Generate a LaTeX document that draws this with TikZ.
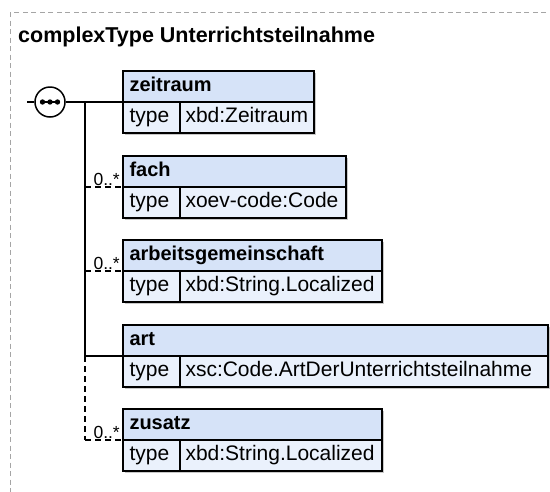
\documentclass[tikz,border=0pt]{standalone}
\usepackage{fontspec}
\setmainfont{Liberation Sans}
\usetikzlibrary{backgrounds}
\definecolor{hdrblue}{RGB}{214,227,248}
\definecolor{rowblue}{RGB}{234,241,252}
\definecolor{framegray}{RGB}{165,165,165}
\definecolor{shadowgray}{RGB}{200,200,200}
\begin{document}
\begin{tikzpicture}[x=1pt,y=-1pt,
  cell/.style={draw=black, line width=1.6pt, anchor=north west, outer sep=0pt,
    inner ysep=0pt, inner xsep=6.5pt, minimum height=31pt,
    text height=14.5pt, text depth=4pt, align=left,
    font=\fontsize{21}{25}\selectfont},
  hdrcell/.style={cell, fill=hdrblue, font=\fontsize{20}{24}\selectfont\bfseries},
  typecell/.style={cell, fill=rowblue, text width=44pt},
  valcell/.style={cell, fill=rowblue, inner xsep=5.5pt},
  conn/.style={line width=1.4pt, black},
  optconn/.style={conn, dash pattern=on 6pt off 4pt},
  mult/.style={anchor=base east, inner sep=0pt, font=\fontsize{17.5}{20}\selectfont},
  seqsym/.style={circle, draw=black, fill=white, line width=1.5pt, minimum size=30pt, inner sep=0pt},
  boxshadow/.style={fill=shadowgray}
]
\useasboundingbox (0,0) rectangle (550,491);
% frame
\draw[framegray, line width=1pt, dash pattern=on 5pt off 3.5pt] (10,12) rectangle (600,540);
\node[anchor=base west, inner sep=0pt, font=\fontsize{21.5}{25}\selectfont\bfseries] (title) at (18,42) {complexType Unterrichtsteilnahme};

% zeitraum
\node[hdrcell, text width=178pt] (zh) at (123,71) {zeitraum};
\node[typecell] (zt) at (zh.south west) {type};
\node[valcell, text width=123pt] (zv) at (zt.north east) {xbd:Zeitraum};
% fach
\node[hdrcell, text width=210pt] (fh) at (123,156) {fach};
\node[typecell] (ft) at (fh.south west) {type};
\node[valcell, text width=155pt] (fv) at (ft.north east) {xoev-code:Code};
% arbeitsgemeinschaft
\node[hdrcell, text width=246pt] (gh) at (123,240) {arbeitsgemeinschaft};
\node[typecell] (gt) at (gh.south west) {type};
\node[valcell, text width=191pt] (gv) at (gt.north east) {xbd:String.Localized};
% art
\node[hdrcell, text width=412pt] (ah) at (123,325) {art};
\node[typecell] (at) at (ah.south west) {type};
\node[valcell, text width=357pt] (av) at (at.north east) {xsc:Code.ArtDerUnterrichtsteilnahme};
% zusatz
\node[hdrcell, text width=246pt] (uh) at (123,409) {zusatz};
\node[typecell] (ut) at (uh.south west) {type};
\node[valcell, text width=191pt] (uv) at (ut.north east) {xbd:String.Localized};

\begin{scope}[on background layer]
  \foreach \h/\v in {zh/zv, fh/fv, gh/gv, ah/av, uh/uv}
    \fill[boxshadow] ([shift={(2,2)}]\h.north west) rectangle ([shift={(2,2)}]\v.south east);
\end{scope}

% connectors
\coordinate (in) at (27,102);
\coordinate (bus) at (85,102);
\node[seqsym] (seq) at (50,102) {};
\draw[conn] (in) -- (seq.west);
\draw[conn] (seq.east) -- (zh.south west);
\draw[conn] (bus) -- (bus |- ah.south west);
\draw[optconn] (bus |- ah.south west) -- (bus |- uh.south west);
\draw[optconn] (bus |- fh.south west) -- (fh.south west);
\draw[optconn] (bus |- gh.south west) -- (gh.south west);
\draw[conn] (bus |- ah.south west) -- (ah.south west);
\draw[optconn] (bus |- uh.south west) -- (uh.south west);
% sequence dots
\draw[line width=1.2pt] ([xshift=-10pt]seq.center) -- ([xshift=10pt]seq.center);
\fill ([xshift=-7.5pt]seq.center) circle (2.7pt);
\fill (seq.center) circle (2.7pt);
\fill ([xshift=7.5pt]seq.center) circle (2.7pt);
% multiplicities
\node[mult] (fm) at ([xshift=-3pt,yshift=2pt]fh.south west) {0..*};
\node[mult] (gm) at ([xshift=-3pt,yshift=2pt]gh.south west) {0..*};
\node[mult] (um) at ([xshift=-3pt,yshift=2pt]uh.south west) {0..*};
\end{tikzpicture}
\end{document}
